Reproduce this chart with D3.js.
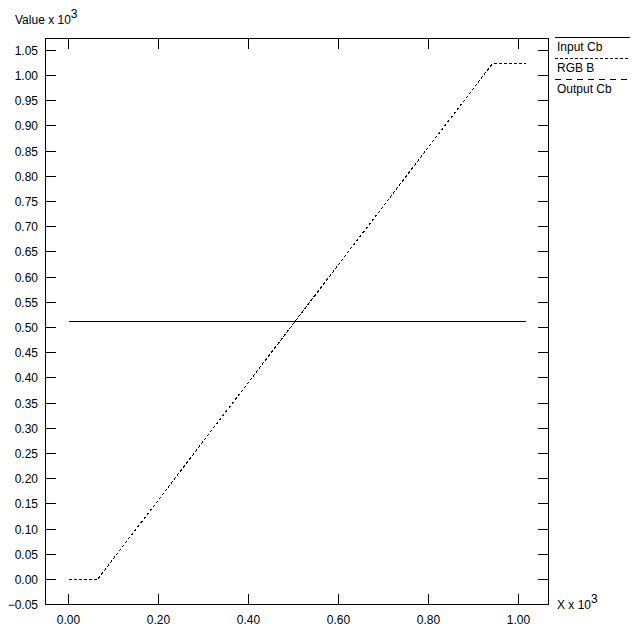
<!DOCTYPE html>
<html><head><meta charset="utf-8">
<script src="https://cdn.jsdelivr.net/npm/d3@7/dist/d3.min.js"></script>
<style>body{margin:0;background:#fff}svg text{font-family:"Liberation Sans",Arial,sans-serif;font-size:12px;fill:#000}</style>
</head><body>
<script>
// data (x and values in units of 10^3)
const inputCbX = [0.0, 1.016];
const inputCbY = [0.512, 0.512];
const outputCbX = [0.0, 1.016];
const outputCbY = [0.512, 0.512];
const rgbBX = [0.0, 0.064, 0.942, 1.016];
const rgbBY = [0.0, 0.0, 1.023, 1.023];
const xTicks = [0.0, 0.2, 0.4, 0.6, 0.8, 1.0];
const yTicks = d3.range(-0.05, 1.0501, 0.05);
const legendNames = ["Input Cb", "RGB B", "Output Cb"];

const W = 640, H = 635;
const svg = d3.select("body").append("svg").attr("width", W).attr("height", H);
const L = 45, R = 548, T = 38, B = 604;
const x = d3.scaleLinear().domain([0, 1]).range([68, 518]);
const y = d3.scaleLinear().domain([0, 1]).range([579, 75]);

const g = svg.append("g").attr("shape-rendering", "crispEdges");
g.append("rect").attr("x", L + 0.5).attr("y", T + 0.5).attr("width", R - L).attr("height", B - T)
  .attr("fill", "none").attr("stroke", "#000");

const TL = 11;
yTicks.forEach(v => {
  const yy = Math.round(y(v)) + 0.5;
  g.append("line").attr("x1", L).attr("x2", L + TL).attr("y1", yy).attr("y2", yy).attr("stroke", "#000");
  g.append("line").attr("x1", R - TL + 1).attr("x2", R + 1).attr("y1", yy).attr("y2", yy).attr("stroke", "#000");
  svg.append("text").attr("x", 38).attr("y", yy + 4).attr("text-anchor", "end").text(d3.format(".2f")(v));
});
xTicks.forEach(v => {
  const xx = Math.round(x(v)) + 0.5;
  g.append("line").attr("x1", xx).attr("x2", xx).attr("y1", B + 1).attr("y2", B - TL + 1).attr("stroke", "#000");
  g.append("line").attr("x1", xx).attr("x2", xx).attr("y1", T).attr("y2", T + TL).attr("stroke", "#000");
  svg.append("text").attr("x", xx).attr("y", 624).attr("text-anchor", "middle").text(d3.format(".2f")(v));
});

// axis titles
const t1 = svg.append("text").attr("x", 15).attr("y", 24);
t1.append("tspan").text("Value x 10");
t1.append("tspan").attr("dy", -6).text("3");
const t2 = svg.append("text").attr("x", 557).attr("y", 609);
t2.append("tspan").text("X x 10");
t2.append("tspan").attr("dy", -6).text("3");

const line = d3.line().x(d => Math.round(x(d[0])) + 0.5).y(d => Math.round(y(d[1])) + 0.5);
const styles = ["none", "3,2", "6,5"];
const series = [
  [outputCbX, outputCbY, 2],
  [inputCbX, inputCbY, 0],
  [rgbBX, rgbBY, 1]
];
series.forEach(([xs, ys, si]) => {
  svg.append("path").datum(xs.map((v, i) => [v, ys[i]])).attr("d", line)
    .attr("fill", "none").attr("stroke", "#000").attr("stroke-width", 1)
    .attr("stroke-dasharray", styles[si]).attr("shape-rendering", "crispEdges");
});

// legend
legendNames.forEach((n, i) => {
  const ly = 37 + i * 21 + 0.5;
  svg.append("line").attr("x1", 555).attr("x2", 630).attr("y1", ly).attr("y2", ly)
    .attr("stroke", "#000").attr("stroke-dasharray", styles[i]).attr("shape-rendering", "crispEdges");
  svg.append("text").attr("x", 557).attr("y", ly + 13).text(n);
});
</script>
</body></html>
